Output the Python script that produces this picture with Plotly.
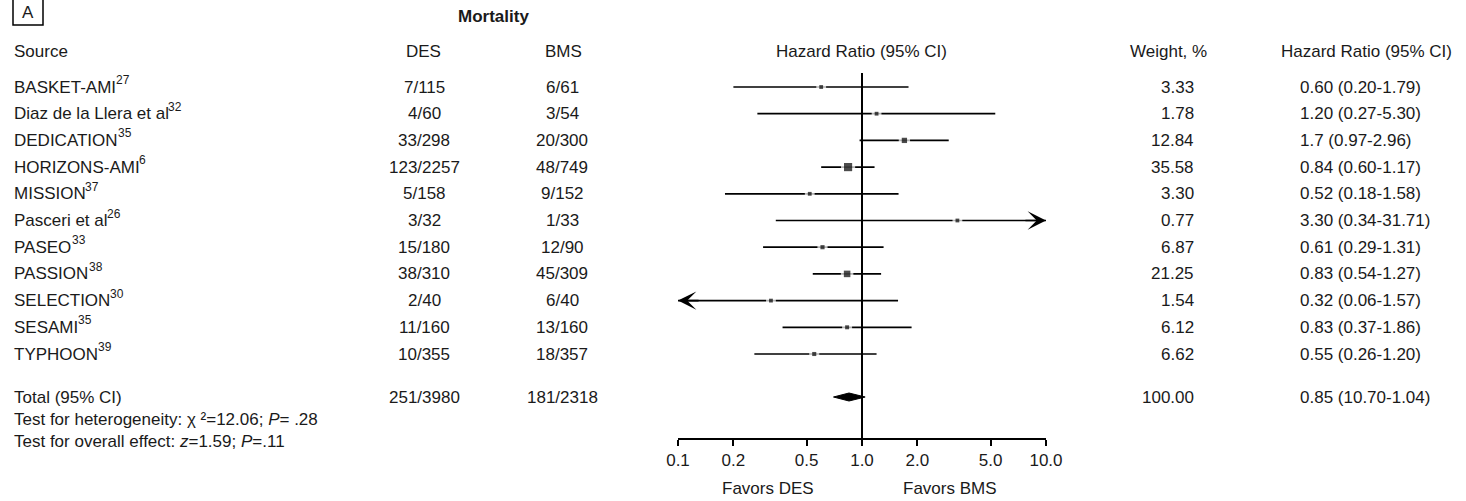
import math
import plotly.graph_objects as go

# ---------------- data ----------------
sources = ["BASKET-AMI", "Diaz de la Llera et al", "DEDICATION", "HORIZONS-AMI", "MISSION",
           "Pasceri et al", "PASEO", "PASSION", "SELECTION", "SESAMI", "TYPHOON"]
source_refs = ["27", "32", "35", "6", "37", "26", "33", "38", "30", "35", "39"]
des_events = ["7/115", "4/60", "33/298", "123/2257", "5/158", "3/32", "15/180", "38/310", "2/40", "11/160", "10/355"]
bms_events = ["6/61", "3/54", "20/300", "48/749", "9/152", "1/33", "12/90", "45/309", "6/40", "13/160", "18/357"]
weights = [3.33, 1.78, 12.84, 35.58, 3.30, 0.77, 6.87, 21.25, 1.54, 6.12, 6.62]
hr = [0.60, 1.20, 1.7, 0.84, 0.52, 3.30, 0.61, 0.83, 0.32, 0.83, 0.55]
hr_lo = [0.20, 0.27, 0.97, 0.60, 0.18, 0.34, 0.29, 0.54, 0.06, 0.37, 0.26]
hr_hi = [1.79, 5.30, 2.96, 1.17, 1.58, 31.71, 1.31, 1.27, 1.57, 1.86, 1.20]
hr_labels = ["0.60 (0.20-1.79)", "1.20 (0.27-5.30)", "1.7 (0.97-2.96)", "0.84 (0.60-1.17)",
             "0.52 (0.18-1.58)", "3.30 (0.34-31.71)", "0.61 (0.29-1.31)", "0.83 (0.54-1.27)",
             "0.32 (0.06-1.57)", "0.83 (0.37-1.86)", "0.55 (0.26-1.20)"]

total_label = "Total (95% CI)"
total_des = "251/3980"
total_bms = "181/2318"
total_weight = 100.00
total_hr = 0.85
total_lo = 0.70
total_hi = 1.04
total_hr_label = "0.85 (10.70-1.04)"

tick_vals = [0.1, 0.2, 0.5, 1.0, 2.0, 5.0, 10.0]
tick_text = ["0.1", "0.2", "0.5", "1.0", "2.0", "5.0", "10.0"]
axis_min, axis_max = 0.1, 10.0

# ---------------- layout helpers ----------------
W, H = 1466, 501
FONT = "Liberation Sans, Arial, Helvetica, sans-serif"
FS = 17
SUP_FS = 12
TXT = "#1a1a1a"
row_y0, row_dy = 87, 26.7
total_y = 397
axis_y = 439
x_left, x_right = 678, 1046
src_x = 13

# Arial / Liberation Sans advance widths (per 1000 em) used to place reference superscripts
_AW = {' ': 278, '-': 333}
_AW.update(dict(zip("ABCDEFGHIJKLMNOPQRSTUVWXYZ",
                    [667, 667, 722, 722, 667, 611, 778, 722, 278, 500, 667, 556, 833,
                     722, 778, 667, 778, 722, 667, 611, 722, 667, 944, 667, 667, 611])))
_AW.update(dict(zip("abcdefghijklmnopqrstuvwxyz",
                    [556, 556, 500, 556, 556, 278, 556, 556, 222, 222, 500, 222, 833,
                     556, 556, 556, 556, 333, 500, 278, 556, 500, 722, 500, 500, 500])))


def text_width(s, size):
    return sum(_AW.get(c, 556) for c in s) * size / 1000.0


def px(x):
    return x / W


def row_y(i):
    return row_y0 + i * row_dy


fig = go.Figure()

# reference vertical line at HR = 1
fig.add_trace(go.Scatter(x=[1, 1], y=[73, axis_y], mode="lines",
                         line=dict(color="black", width=2), hoverinfo="skip"))

annotations = []
# CI lines
for i in range(len(sources)):
    y = row_y(i)
    lo = max(hr_lo[i], axis_min)
    hi = min(hr_hi[i], axis_max)
    fig.add_trace(go.Scatter(x=[lo, hi], y=[y, y], mode="lines",
                             line=dict(color="black", width=1.7), hoverinfo="skip"))
    if hr_hi[i] > axis_max:
        annotations.append(dict(x=math.log10(axis_max), y=y, xref="x", yref="y",
                                ax=math.log10(axis_max) - 0.12, ay=y, axref="x", ayref="y",
                                showarrow=True, arrowhead=3, arrowsize=1.8, arrowwidth=1.7,
                                arrowcolor="black", text=""))
    if hr_lo[i] < axis_min:
        annotations.append(dict(x=math.log10(axis_min), y=y, xref="x", yref="y",
                                ax=math.log10(axis_min) + 0.12, ay=y, axref="x", ayref="y",
                                showarrow=True, arrowhead=3, arrowsize=1.8, arrowwidth=1.7,
                                arrowcolor="black", text=""))

sizes = [max(3.8, 1.0 + 1.2 * math.sqrt(w)) for w in weights]
ys = [row_y(i) for i in range(len(sources))]
# white gap around point estimates
fig.add_trace(go.Scatter(x=hr, y=ys, mode="markers",
                         marker=dict(symbol="square", size=[s + 6 for s in sizes], color="white",
                                     line=dict(width=0)), hoverinfo="skip"))
fig.add_trace(go.Scatter(x=hr, y=ys, mode="markers",
                         marker=dict(symbol="square", size=sizes, color="black",
                                     line=dict(width=0)), hoverinfo="skip"))

# pooled diamond
fig.add_trace(go.Scatter(x=[total_lo, total_hr, total_hi, total_hr, total_lo],
                         y=[total_y, total_y - 4, total_y, total_y + 4, total_y],
                         mode="lines", fill="toself", fillcolor="black",
                         line=dict(color="black", width=1), hoverinfo="skip"))


def txt(x, y, s, anchor="left", size=FS, bold=False):
    if bold:
        s = "<b>" + s + "</b>"
    annotations.append(dict(x=px(x), y=y, xref="paper", yref="y", text=s, showarrow=False,
                            xanchor=anchor, yanchor="middle", borderpad=0,
                            font=dict(family=FONT, size=size, color=TXT)))


# headers
txt(28, 12, "A", anchor="center")
txt(493, 16, "Mortality", anchor="center", bold=True)
txt(src_x, 51, "Source")
txt(423, 51, "DES", anchor="center")
txt(563, 51, "BMS", anchor="center")
txt(861, 51, "Hazard Ratio (95% CI)", anchor="center")
txt(1168, 51, "Weight, %", anchor="center")
txt(1366, 51, "Hazard Ratio (95% CI)", anchor="center")

for i in range(len(sources)):
    y = row_y(i)
    txt(src_x, y, sources[i])
    txt(src_x + text_width(sources[i], FS) - 0.5, y - 7, source_refs[i], size=SUP_FS)
    txt(424, y, des_events[i], anchor="center")
    txt(562, y, bms_events[i], anchor="center")
    txt(1195, y, f"{weights[i]:.2f}", anchor="right")
    txt(1299, y, hr_labels[i])

txt(src_x, total_y, total_label)
txt(424, total_y, total_des, anchor="center")
txt(562, total_y, total_bms, anchor="center")
txt(1195, total_y, f"{total_weight:.2f}", anchor="right")
txt(1299, total_y, total_hr_label)
txt(src_x, 419, "Test for heterogeneity: χ ²=12.06; <i>P</i>= .28")
txt(src_x, 441, "Test for overall effect: <i>z</i>=1.59; <i>P</i>=.11")

txt(768, 488, "Favors DES", anchor="center")
txt(950, 488, "Favors BMS", anchor="center")

fig.update_layout(
    template="none",
    width=W, height=H, autosize=False,
    margin=dict(l=0, r=0, t=0, b=0, pad=0, autoexpand=False),
    paper_bgcolor="white", plot_bgcolor="rgba(0,0,0,0)",
    showlegend=False,
    annotations=annotations,
    shapes=[dict(type="rect", xref="paper", yref="y", x0=px(13), x1=px(43), y0=-2, y1=25,
                 line=dict(color="black", width=1.5))],
    xaxis=dict(type="log", range=[math.log10(axis_min), math.log10(axis_max)],
               domain=[px(x_left), px(x_right)], anchor="free", position=(H - axis_y) / H,
               automargin=False,
               showgrid=False, zeroline=False, showline=True, linecolor="black", linewidth=2,
               ticks="outside", ticklen=6, tickwidth=2, tickcolor="black",
               tickvals=tick_vals, ticktext=tick_text,
               tickfont=dict(family=FONT, size=FS, color=TXT)),
    yaxis=dict(range=[H, 0], domain=[0, 1], visible=False, showgrid=False, zeroline=False,
               automargin=False),
)

fig.write_html("out.html")
